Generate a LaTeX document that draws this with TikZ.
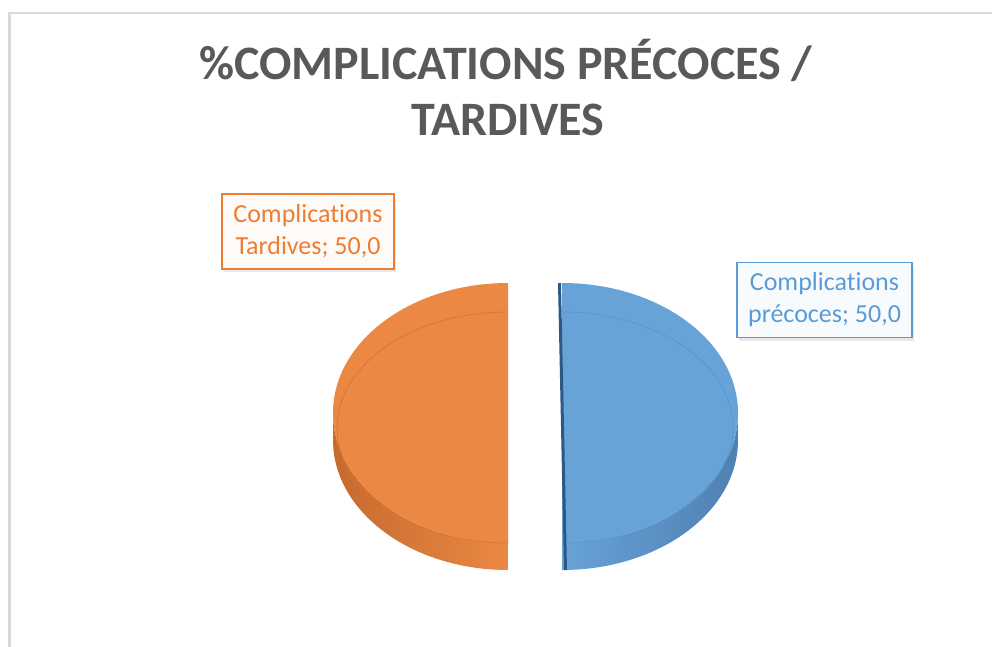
\documentclass[tikz,border=0pt]{standalone}
\usepackage{fontspec}
\setmainfont{Carlito}[Ligatures=NoCommon]
\usepackage{tikz}
\usetikzlibrary{shadows}
\definecolor{titlegray}{HTML}{595959}
\definecolor{framegray}{HTML}{D9D9D9}
\definecolor{xlorange}{HTML}{EB8944}
\definecolor{xlorangedark}{HTML}{C66A2E}
\definecolor{xlorangeline}{HTML}{D9742F}
\definecolor{xlblue}{HTML}{68A3D8}
\definecolor{xlbluedark}{HTML}{4F80B2}
\definecolor{xlblueedge}{HTML}{2D5884}
\definecolor{xlblueline}{HTML}{5A94CB}
\definecolor{lblorange}{HTML}{ED7D31}
\definecolor{lblblue}{HTML}{5B9BD5}

\begin{document}
\begin{tikzpicture}[
    x=1pt, y=-1pt,
    title/.style={font=\fontsize{48}{56}\selectfont\bfseries, text=titlegray,
                  anchor=base, inner sep=0pt},
    datalabel/.style={rectangle, line width=1.8pt, minimum width=172pt,
                 minimum height=75pt, font=\fontsize{26}{32}\selectfont,
                 align=center, inner sep=0pt,
                 drop shadow={shadow xshift=2pt, shadow yshift=-3pt, opacity=0.18}},
    bevel/.style={line width=0.7pt}
]
\useasboundingbox (0,0) rectangle (992,647);

% Chart frame
\draw[framegray, line width=2.5pt] (995,13) -- (9.5,13) -- (9.5,650);

% Title
\node[title] at (506,80) (title1) {\%COMPLICATIONS PRÉCOCES /};
\node[title] at (508,136) (title2) {TARDIVES};

% Tardives (left half)
\shade[left color=xlorangedark, right color=xlorange]
    (333,413) arc[start angle=180, end angle=90, x radius=175, y radius=130]
    -- (508,570) arc[start angle=90, end angle=180, x radius=175, y radius=130] -- cycle;
\fill[xlorange] (508,283) arc[start angle=270, end angle=90, x radius=175, y radius=130] -- cycle;
\draw[bevel, xlorangeline] (508,312) arc[start angle=270, end angle=90, x radius=171, y radius=115.5];

% Precoces (right half)
\shade[left color=xlblue, right color=xlbluedark]
    (738,413) arc[start angle=0, end angle=90, x radius=176, y radius=130]
    -- (562,570) arc[start angle=90, end angle=0, x radius=176, y radius=130] -- cycle;
\fill[xlblue] (562,283) arc[start angle=-90, end angle=90, x radius=176, y radius=130] -- cycle;
\draw[bevel, xlblueline] (562,312) arc[start angle=-90, end angle=90, x radius=171, y radius=115.5];
\fill[xlblueedge] (558,283) -- (561,283) -- (567,570) -- (564,570) -- cycle;

% Data labels
\node[datalabel, draw=lblorange, fill=lblorange!4, text=lblorange] at (308,231.5) (lbl-tardives)
    {Complications\\Tardives; 50,0};
\node[datalabel, draw=lblblue, fill=lblblue!4, text=lblblue, minimum width=175pt] at (824.5,300) (lbl-precoces)
    {Complications\\précoces; 50,0};

\end{tikzpicture}
\end{document}
